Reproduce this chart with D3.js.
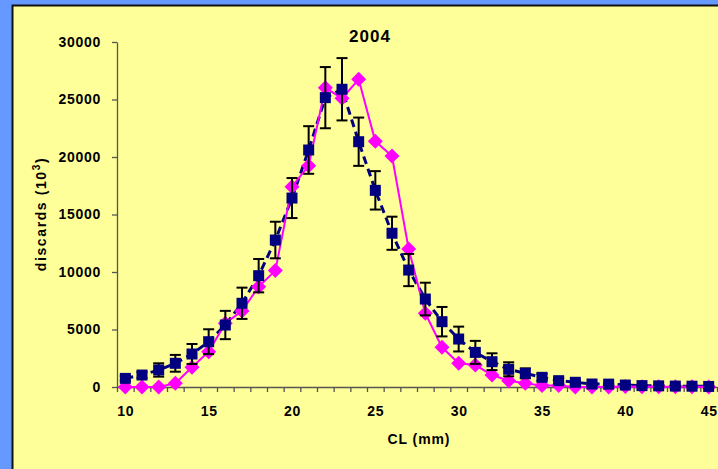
<!DOCTYPE html>
<html>
<head>
<meta charset="utf-8">
<script src="https://cdn.jsdelivr.net/npm/d3@7"></script>
<style>
  body { margin: 0; background: #6699ff; }
  svg text { font-family: "Liberation Sans", Arial, sans-serif; font-weight: bold; fill: #000; }
</style>
</head>
<body>
<div id="chart"></div>
<script>
// carapace length classes (mm)
const lengths = d3.range(10, 46);
// observed discards (thousands) with standard error
const observed = [750, 1040, 1480, 2060, 2870, 3940, 5390, 7280, 9680, 12780,
  16430, 20610, 25160, 25890, 21330, 17100, 13370, 10170, 7650, 5680,
  4170, 3010, 2200, 1540, 1190, 840, 550, 410, 260, 250,
  170, 120, 100, 80, 70, 50];
const stdErr = [200, 250, 580, 730, 870, 1080, 1230, 1360, 1450, 1590,
  1740, 2070, 2660, 2710, 2100, 1670, 1440, 1400, 1420, 1280,
  1080, 1000, 730, 610, 430, 300, 220, 150, 100, 80,
  60, 40, 30, 20, 20, 10];
// model estimate
const predicted = [0, 0, 0, 320, 1710, 3070, 5540, 6610, 8720, 10120,
  17420, 19250, 26030, 25100, 26760, 21360, 20090, 12000, 6410, 3450,
  2060, 1910, 1040, 550, 320, 120, 120, 0, 0, 0,
  50, 30, 30, 20, 20, 10];
const yTicks = [0, 5000, 10000, 15000, 20000, 25000, 30000];
const xLabels = [10, 15, 20, 25, 30, 35, 40, 45];

const width = 718, height = 469;

let svg = d3.select("#chart")
  .append("svg")
  .attr("width", width)
  .attr("height", height);

// yellow panel with dark border on top/left
svg.append("rect")
  .attr("x", 12).attr("y", 5)
  .attr("width", width - 12).attr("height", height - 5)
  .attr("fill", "#ffff99");
svg.append("path")
  .attr("d", `M12.5,${height} V5.5 H${width}`)
  .attr("fill", "none")
  .attr("stroke", "#111")
  .attr("stroke-width", 2);

let x = d3.scaleLinear().domain([9.5, 45.5]).range([117, 717]);
let y = d3.scaleLinear().domain([0, 30000]).range([387, 42]);

let data = lengths.map((d, i) => ({cl: d, obs: observed[i], se: stdErr[i], pred: predicted[i]}));

// y axis
let yAxis = svg.append("g")
  .attr("transform", "translate(117,0)")
  .call(d3.axisLeft(y).tickValues(yTicks).tickSize(5).tickSizeOuter(0).tickPadding(11).tickFormat(d3.format("d")));
yAxis.selectAll("text").style("font-size", "14px").style("letter-spacing", "0.7px");

// x axis: tick marks between classes
let xAxis = svg.append("g")
  .attr("transform", "translate(0,387)")
  .call(d3.axisBottom(x).tickValues(d3.range(9.5, 46, 1)).tickSize(5).tickSizeOuter(0).tickFormat(""));
let xLab = svg.append("g")
  .attr("transform", "translate(0,387)")
  .call(d3.axisBottom(x).tickValues(xLabels).tickSize(0).tickPadding(19));
xLab.select(".domain").remove();
xLab.selectAll("text").style("font-size", "14px").style("letter-spacing", "0.7px");

svg.selectAll(".domain, .tick line").attr("stroke", "#555").attr("stroke-width", 1.3);

// titles
svg.append("text")
  .attr("x", 370).attr("y", 42)
  .attr("text-anchor", "middle")
  .style("font-size", "17px")
  .style("letter-spacing", "1px")
  .text("2004");

svg.append("text")
  .attr("x", 419).attr("y", 444)
  .attr("text-anchor", "middle")
  .style("font-size", "14px")
  .style("letter-spacing", "0.9px")
  .text("CL (mm)");

let yTitle = svg.append("text")
  .attr("transform", "translate(46,214) rotate(-90)")
  .attr("text-anchor", "middle")
  .style("font-size", "14px")
  .style("letter-spacing", "1.6px");
yTitle.append("tspan").text("discards (10");
yTitle.append("tspan").attr("dy", -6).style("font-size", "10px").text("3");
yTitle.append("tspan").attr("dy", 6).text(")");

// observed series: dashed navy line
let obsLine = d3.line().x(d => x(d.cl)).y(d => y(d.obs));
svg.append("path")
  .datum(data)
  .attr("d", obsLine)
  .attr("fill", "none")
  .attr("stroke", "#000080")
  .attr("stroke-width", 3)
  .attr("stroke-dasharray", "8,5");

// predicted series: magenta line + diamonds
let predLine = d3.line().x(d => x(d.cl)).y(d => y(d.pred));
svg.append("path")
  .datum(data)
  .attr("d", predLine)
  .attr("fill", "none")
  .attr("stroke", "#ff00ff")
  .attr("stroke-width", 2);

svg.selectAll(".diamond")
  .data(data)
  .enter()
  .append("path")
  .attr("class", "diamond")
  .attr("d", "M0,-7.5 L7.5,0 L0,7.5 L-7.5,0 Z")
  .attr("transform", d => `translate(${x(d.cl)},${y(d.pred)})`)
  .attr("fill", "#ff00ff");

// error bars
let err = svg.append("g").attr("stroke", "#000").attr("stroke-width", 2);
data.forEach(function(d) {
  let cx = x(d.cl), top = y(d.obs + d.se), bot = y(Math.max(0, d.obs - d.se));
  err.append("line").attr("x1", cx).attr("x2", cx).attr("y1", top).attr("y2", bot);
  err.append("line").attr("x1", cx - 5.5).attr("x2", cx + 5.5).attr("y1", top).attr("y2", top);
  err.append("line").attr("x1", cx - 5.5).attr("x2", cx + 5.5).attr("y1", bot).attr("y2", bot);
});

// observed squares
svg.selectAll(".square")
  .data(data)
  .enter()
  .append("rect")
  .attr("class", "square")
  .attr("x", d => x(d.cl) - 5.5)
  .attr("y", d => y(d.obs) - 5.5)
  .attr("width", 11)
  .attr("height", 11)
  .attr("fill", "#000080");
</script>
</body>
</html>
